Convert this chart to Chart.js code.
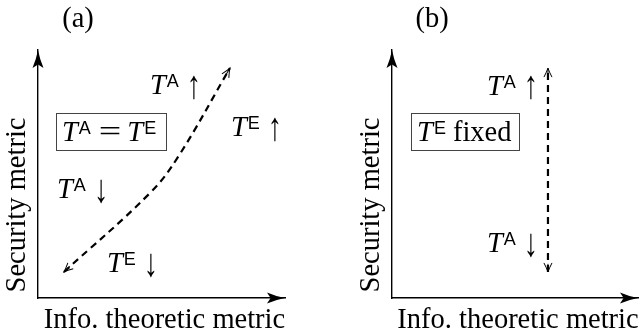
<!DOCTYPE html>
<html>
<head>
<meta charset="utf-8">
<script src="https://cdn.jsdelivr.net/npm/chart.js@4.4.1/dist/chart.umd.min.js"></script>
<style>
  html, body { margin: 0; padding: 0; background: #fff; }
  #wrap { position: relative; width: 639px; height: 335px; }
  canvas { position: absolute; top: 0; }
</style>
</head>
<body>
<div id="wrap">
  <canvas id="chartA" width="320" height="335" style="left:0px"></canvas>
  <canvas id="chartB" width="319" height="335" style="left:320px"></canvas>
</div>
<script>
// data (axis units 0..10, schematic)
const curveX = [1.05, 4.53, 5.67, 7.77];
const curveY = [1.05, 4.23, 5.69, 9.27];
const fixedX = [6.34, 6.34];
const fixedY = [1.05, 9.27];

const panelTags = ['(a)', '(b)'];
const xTitle = 'Info. theoretic metric';
const yTitle = 'Security metric';

const SERIF = '"Liberation Serif", "DejaVu Serif", serif';
const SANS = '"Liberation Sans", "DejaVu Sans", sans-serif';
const F_IT = 'italic 28.5px ' + SERIF;
const F_RM = '28.5px ' + SERIF;
const F_SUP = '18px ' + SANS;

// label pieces: T, superscript, arrow
function tLabel(sup, arrow) {
  return [
    { text: 'T', font: F_IT },
    { text: sup, font: F_SUP, dy: -7, dx: 1 },
    { text: arrow, font: F_RM, cx: 44, stretch: true }
  ];
}

const labelsA = [
  { x: 4.53, y: 8.23, parts: tLabel('A', '↑') },
  { x: 7.81, y: 6.53, parts: tLabel('E', '↑') },
  { x: 0.77, y: 4.03, parts: tLabel('A', '↓') },
  { x: 2.79, y: 1.05, parts: tLabel('E', '↓') },
  { x: 0.97, y: 6.33, box: [6, 10],
    parts: [{ text: 'T', font: F_IT }, { text: 'A', font: F_SUP, dy: -7, dx: 1 },
            { text: '=', font: F_RM, dx: 8, wide: 1.4 }, { text: 'T', font: F_IT, dx: 6 },
            { text: 'E', font: F_SUP, dy: -7, dx: 1 }] }
];
const labelsB = [
  { x: 3.86, y: 8.19, parts: tLabel('A', '↑') },
  { x: 3.86, y: 1.85, parts: tLabel('A', '↓') },
  { x: 1.02, y: 6.33, box: [6, 7],
    parts: [{ text: 'T', font: F_IT }, { text: 'E', font: F_SUP, dy: -7, dx: 1 },
            { text: 'fixed', font: F_RM, dx: 7 }] }
];

function drawParts(ctx, x, y, parts) {
  let cx = x;
  parts.forEach(p => {
    ctx.font = p.font;
    const m = ctx.measureText(p.text);
    if (p.stretch) {
      // tall thin arrow like TeX \uparrow
      const asc = m.actualBoundingBoxAscent, desc = m.actualBoundingBoxDescent;
      const top = y - 20, bot = y + 5;
      const s = (bot - top) / (asc + desc);
      const left = x + p.cx - m.width / 2;
      ctx.save();
      ctx.translate(left, top + s * asc);
      ctx.scale(1, s);
      ctx.fillText(p.text, 0, 0);
      ctx.restore();
      return;
    }
    cx += p.dx || 0;
    const k = p.wide || 1;
    ctx.save();
    ctx.translate(cx, y + (p.dy || 0));
    ctx.scale(k, 1);
    ctx.fillText(p.text, 0, 0);
    ctx.restore();
    cx += m.width * k;
  });
  return cx - x;
}

function filledArrow(ctx, x, y, ang) {
  const len = 18, hw = 5.5;
  ctx.save();
  ctx.translate(x, y);
  ctx.rotate(ang);
  ctx.beginPath();
  ctx.moveTo(0, 0);
  ctx.quadraticCurveTo(-len * 0.55, -hw * 0.35, -len, -hw);
  ctx.lineTo(-len * 0.8, 0);
  ctx.lineTo(-len, hw);
  ctx.quadraticCurveTo(-len * 0.55, hw * 0.35, 0, 0);
  ctx.closePath();
  ctx.fillStyle = '#000';
  ctx.fill();
  ctx.restore();
}

function openArrow(ctx, x, y, ang) {
  const len = 9, hw = 4;
  ctx.save();
  ctx.translate(x, y);
  ctx.rotate(ang);
  ctx.beginPath();
  ctx.moveTo(-len, -hw);
  ctx.quadraticCurveTo(-len * 0.4, -hw * 0.3, 0, 0);
  ctx.quadraticCurveTo(-len * 0.4, hw * 0.3, -len, hw);
  ctx.moveTo(0, 0);
  ctx.lineTo(-len * 0.9, 0);
  ctx.lineWidth = 1;
  ctx.strokeStyle = '#000';
  ctx.stroke();
  ctx.restore();
}

const decor = {
  id: 'decor',
  afterDraw(chart, args, opts) {
    const ctx = chart.ctx;
    const a = chart.chartArea;
    const sx = chart.scales.x, sy = chart.scales.y;
    ctx.save();
    // axis arrowheads
    filledArrow(ctx, a.left, a.top, -Math.PI / 2);
    filledArrow(ctx, a.right, a.bottom, 0);

    // arrowheads on the dashed line
    const pts = chart.getDatasetMeta(0).data;
    const n = pts.length;
    openArrow(ctx, pts[0].x, pts[0].y, Math.atan2(pts[0].y - pts[1].y, pts[0].x - pts[1].x));
    openArrow(ctx, pts[n - 1].x, pts[n - 1].y, Math.atan2(pts[n - 1].y - pts[n - 2].y, pts[n - 1].x - pts[n - 2].x));

    // labels
    ctx.fillStyle = '#000';
    ctx.textBaseline = 'alphabetic';
    ctx.textAlign = 'left';
    opts.labels.forEach(l => {
      const px = sx.getPixelForValue(l.x), py = sy.getPixelForValue(l.y);
      const w = drawParts(ctx, px, py, l.parts);
      if (l.box) {
        ctx.strokeStyle = '#444';
        ctx.lineWidth = 1;
        const bl = Math.round(px - l.box[0]);
        ctx.strokeRect(bl + 0.5, Math.round(py - 28) + 0.5, Math.round(px + w + l.box[1]) - bl, 37);
      }
    });

    // panel tag
    ctx.font = F_RM;
    ctx.textAlign = 'center';
    ctx.fillText(opts.tag, a.left + 40, 27);
    // axis titles
    ctx.fillText(xTitle, (a.left + a.right) / 2 + 3, a.bottom + 30);
    ctx.save();
    ctx.translate(a.left - 13, (a.top + a.bottom) / 2 + 31);
    ctx.rotate(-Math.PI / 2);
    ctx.fillText(yTitle, 0, 0);
    ctx.restore();
    ctx.restore();
  }
};

function makePanel(id, xs, ys, tension, pad, labels, tag) {
  new Chart(document.getElementById(id), {
    type: 'scatter',
    data: {
      datasets: [{
        data: xs.map((x, i) => ({ x: x, y: ys[i] })),
        showLine: true,
        tension: tension,
        borderColor: '#000',
        borderWidth: 2.2,
        borderDash: [7, 5],
        pointRadius: 0,
        clip: false
      }]
    },
    options: {
      responsive: false,
      animation: false,
      events: [],
      layout: { padding: pad },
      scales: {
        x: {
          type: 'linear', min: 0, max: 10,
          grid: { display: false, drawTicks: false },
          ticks: { display: false },
          border: { display: true, color: '#000', width: 1.4 }
        },
        y: {
          type: 'linear', min: 0, max: 10,
          grid: { display: false, drawTicks: false },
          ticks: { display: false },
          border: { display: true, color: '#000', width: 1.4 }
        }
      },
      plugins: {
        legend: { display: false },
        tooltip: { enabled: false },
        decor: { labels: labels, tag: tag }
      }
    },
    plugins: [decor]
  });
}

makePanel('chartA', curveX, curveY, 0.4, { left: 38, right: 35, top: 50, bottom: 37 }, labelsA, panelTags[0]);
makePanel('chartB', fixedX, fixedY, 0, { left: 72, right: 1, top: 50, bottom: 37 }, labelsB, panelTags[1]);
</script>
</body>
</html>
